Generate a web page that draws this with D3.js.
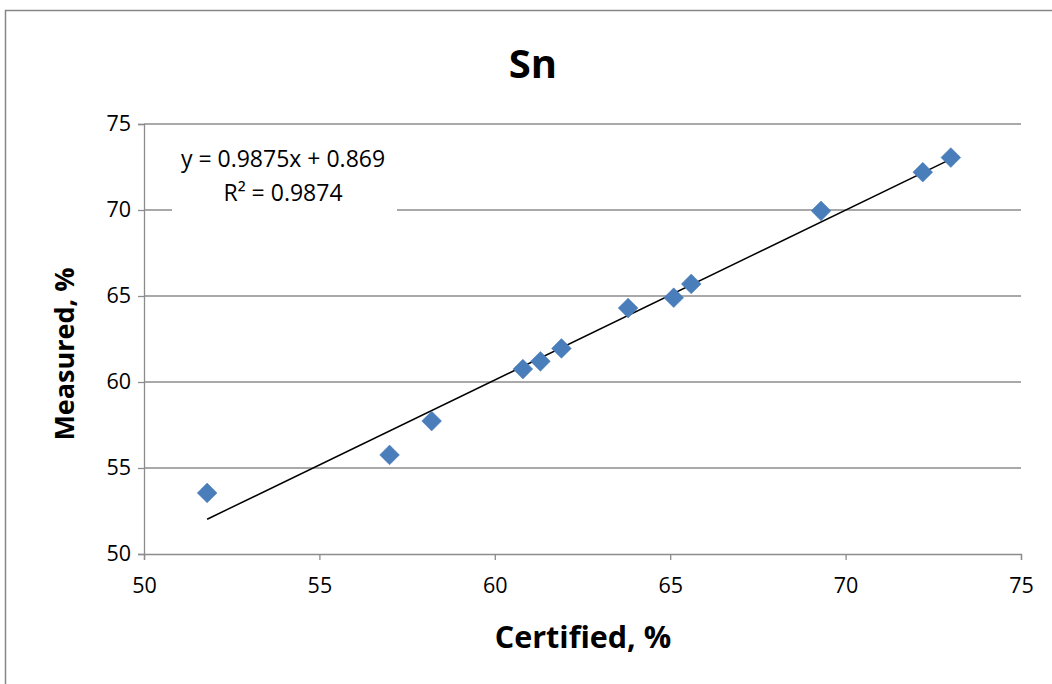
<!DOCTYPE html>
<html>
<head>
<meta charset="utf-8">
<script src="https://cdn.jsdelivr.net/npm/d3@7"></script>
<style>
  body { margin: 0; background: #fff; }
  svg { display: block; }
  text { font-family: "Open Sans", "Noto Sans", sans-serif; }
</style>
</head>
<body>
<svg id="chart" width="1052" height="684"></svg>
<script>
// Data
const title = "Sn";
const xLabel = "Certified, %";
const yLabel = "Measured, %";
const certified = [51.8, 57.0, 58.2, 60.8, 61.3, 61.9, 63.8, 65.1, 65.6, 69.3, 72.2, 73.0];
const measured  = [53.55, 55.76, 57.73, 60.75, 61.2, 61.95, 64.3, 64.9, 65.7, 69.95, 72.2, 73.05];
const xTicks = [50, 55, 60, 65, 70, 75];
const yTicks = [50, 55, 60, 65, 70, 75];
const slope = 0.9875;
const intercept = 0.869;
const eqLines = ["y = 0.9875x + 0.869", "R² = 0.9874"];

(function () {
const svg = d3.select("#chart");
const W = 1052, H = 684;

// outer chart border
svg.append("rect").attr("x", 5.5).attr("y", 10.5).attr("width", W).attr("height", H)
  .attr("fill", "#fff").attr("stroke", "#868686").attr("stroke-width", 1.5);

const pLeft = 144, pRight = 1021, pTop = 124, pBottom = 554;
const x = d3.scaleLinear().domain([50, 75]).range([pLeft, pRight]);
const y = d3.scaleLinear().domain([50, 75]).range([pBottom, pTop]);

// gridlines
svg.append("g").selectAll("line").data(yTicks.filter(d => d !== 50)).join("line")
  .attr("x1", pLeft).attr("x2", pRight)
  .attr("y1", d => y(d)).attr("y2", d => y(d))
  .attr("stroke", "#8c8c8c").attr("stroke-width", 1.3);

// axes
const xAxis = svg.append("g").attr("transform", `translate(0,${pBottom})`)
  .call(d3.axisBottom(x).tickValues(xTicks).tickSize(6).tickPadding(18));
const yAxis = svg.append("g").attr("transform", `translate(${pLeft},0)`)
  .call(d3.axisLeft(y).tickValues(yTicks).tickSize(6).tickPadding(7));
[xAxis, yAxis].forEach(g => {
  g.select(".domain").attr("stroke", "#8c8c8c").attr("stroke-width", 1.3);
  g.selectAll(".tick line").attr("stroke", "#8c8c8c").attr("stroke-width", 1.3);
  g.selectAll(".tick text").attr("fill", "#000").style("font-size", "21.5px")
    .style("font-family", "'Open Sans', sans-serif");
});

// equation label with white background
const eqCx = 283;
svg.append("rect").attr("x", 172).attr("y", 140).attr("width", 225).attr("height", 72).attr("fill", "#fff");
svg.append("g").selectAll("text").data(eqLines).join("text")
  .attr("x", eqCx).attr("y", (d, i) => 167 + i * 34)
  .attr("text-anchor", "middle").style("font-size", "23px").attr("fill", "#000")
  .text(d => d);

// trendline
const xMin = d3.min(certified), xMax = d3.max(certified);
svg.append("line")
  .attr("x1", x(xMin)).attr("y1", y(slope * xMin + intercept))
  .attr("x2", x(xMax)).attr("y2", y(slope * xMax + intercept))
  .attr("stroke", "#000").attr("stroke-width", 1.5);

// points (diamonds)
const pts = certified.map((c, i) => [c, measured[i]]);
svg.append("g").selectAll("path").data(pts).join("path")
  .attr("d", d3.symbol().type(d3.symbolSquare).size(195))
  .attr("transform", d => `translate(${x(d[0])},${y(d[1])}) rotate(45)`)
  .attr("fill", "#4a7ebb").attr("stroke", "#4677b8").attr("stroke-width", 0.5);

// title
svg.append("text").attr("x", 533).attr("y", 78).attr("text-anchor", "middle")
  .style("font-size", "40px").style("font-weight", "bold").text(title);

// axis titles
svg.append("text").attr("x", 583).attr("y", 648).attr("text-anchor", "middle")
  .style("font-size", "30.5px").style("font-weight", "bold").text(xLabel);
svg.append("text").attr("transform", `translate(74,354) rotate(-90)`).attr("text-anchor", "middle")
  .style("font-size", "27px").style("font-weight", "bold").text(yLabel);
})();
</script>
</body>
</html>
